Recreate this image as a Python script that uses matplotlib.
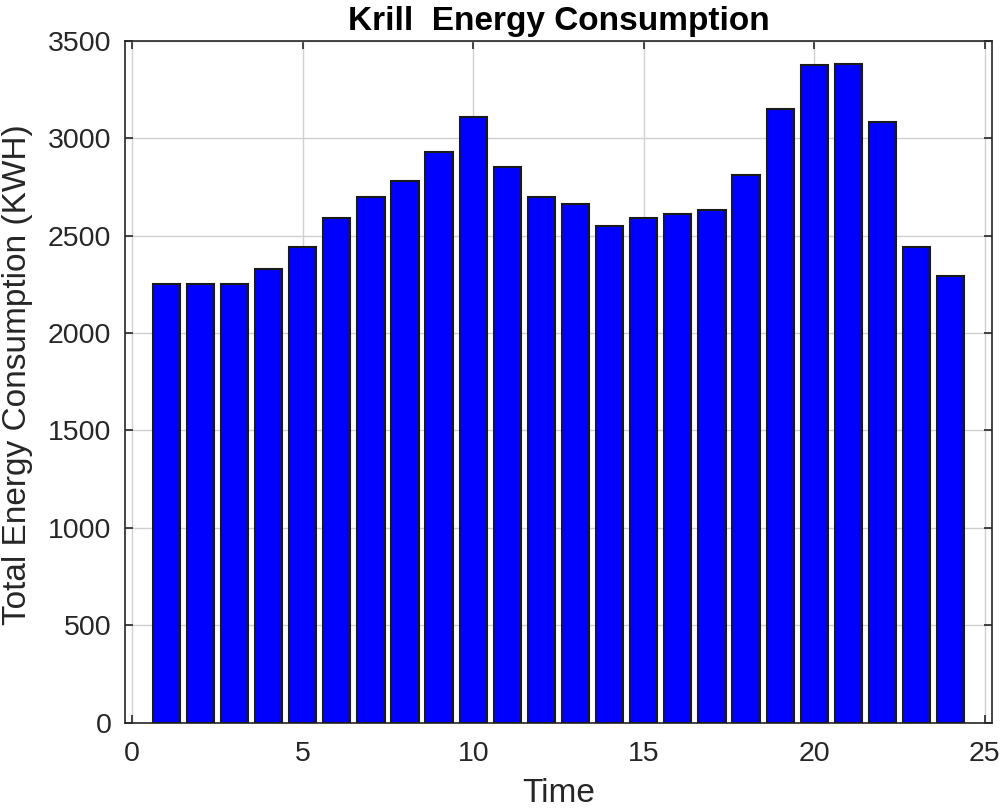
import matplotlib
matplotlib.use("Agg")
import matplotlib.pyplot as plt

hours = list(range(1, 25))
energy = [2250, 2250, 2250, 2330, 2440, 2590, 2700, 2780, 2930, 3110, 2850, 2700,
          2660, 2550, 2590, 2610, 2630, 2810, 3150, 3375, 3380, 3080, 2440, 2290]
xticks = [0, 5, 10, 15, 20, 25]
yticks = [0, 500, 1000, 1500, 2000, 2500, 3000, 3500]

plt.rcParams['font.family'] = ['Liberation Sans', 'DejaVu Sans']

fig = plt.figure(figsize=(10.03, 8.08), dpi=100)
ax = fig.add_axes([0.1249, 0.1056, 0.8638, 0.8441])
ax.bar(hours, energy, width=0.8, color='#0000ff', edgecolor='#1a1a1a', linewidth=1.5, zorder=3)
ax.set_xlim(-0.2, 25.2)
ax.set_ylim(0, 3500)
ax.set_xticks(xticks)
ax.set_yticks(yticks)
ax.grid(True, color='#d0d0d0', linewidth=1.0, zorder=0)
ax.set_axisbelow(True)
ax.tick_params(direction='in', length=6, width=1.2, top=True, right=True,
               labelsize=20.5, labelcolor='#262626', colors='#262626')
ax.tick_params(axis='x', pad=13)
ax.tick_params(axis='y', pad=10)
for s in ax.spines.values():
    s.set_linewidth(1.2)
    s.set_color('#262626')
ax.set_xlabel('Time', fontsize=24, color='#262626', labelpad=8)
ax.set_ylabel('Total Energy Consumption (KWH)', fontsize=24, color='#262626')
ax.yaxis.set_label_coords(-0.1065, 0.511)
ax.set_title('Krill  Energy Consumption', fontsize=24, fontweight='bold', color='black', pad=8)
fig.savefig('out.png', dpi=100)
